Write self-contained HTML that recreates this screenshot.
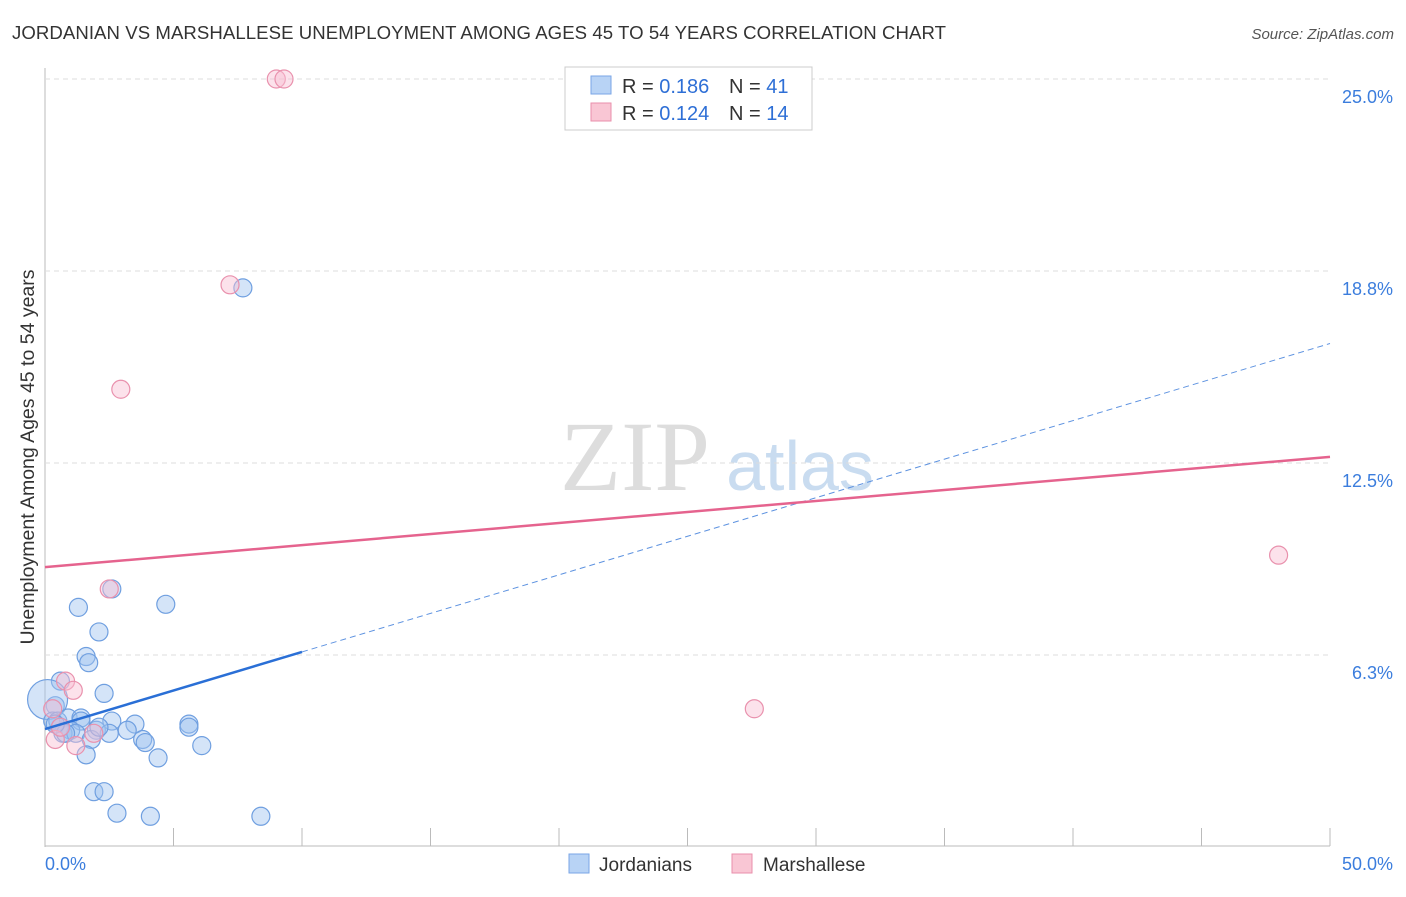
<!DOCTYPE html>
<html><head><meta charset="utf-8"><style>
body{margin:0;background:#fff;font-family:"Liberation Sans",sans-serif;}
</style></head><body>
<svg width="1406" height="892" xmlns="http://www.w3.org/2000/svg" id="svg">
<text x="12" y="39" font-size="18.6" fill="#333" textLength="934">JORDANIAN VS MARSHALLESE UNEMPLOYMENT AMONG AGES 45 TO 54 YEARS CORRELATION CHART</text>
<text x="1394" y="39" font-size="15" fill="#555" font-style="italic" text-anchor="end">Source: ZipAtlas.com</text>
<text x="635" y="490" font-size="100" fill="#ddd" font-family="Liberation Serif,serif" text-anchor="middle">ZIP</text>
<text x="800" y="490" font-size="70" fill="#c9dcf0" text-anchor="middle">atlas</text>
<text transform="translate(34,457) rotate(-90)" font-size="19.5" fill="#333" text-anchor="middle">Unemployment Among Ages 45 to 54 years</text>
<g id="grid"></g><g id="marks"></g>
<rect x="565" y="67" width="247" height="63" fill="#fff" stroke="#ccc"/>
<rect x="591" y="76" width="20" height="18" fill="#b8d3f5" stroke="#7aa6e6"/>
<text x="622" y="93" font-size="20" fill="#333">R = <tspan fill="#2e6fd6">0.186</tspan></text>
<text x="729" y="93" font-size="20" fill="#333">N = <tspan fill="#2e6fd6">41</tspan></text>
<rect x="591" y="103" width="20" height="18" fill="#f9c6d4" stroke="#e98fab"/>
<text x="622" y="120" font-size="20" fill="#333">R = <tspan fill="#2e6fd6">0.124</tspan></text>
<text x="729" y="120" font-size="20" fill="#333">N = <tspan fill="#2e6fd6">14</tspan></text>
<rect x="569" y="854" width="20" height="19" fill="#b8d3f5" stroke="#7aa6e6"/>
<text x="599" y="871" font-size="19" fill="#333">Jordanians</text>
<rect x="732" y="854" width="20" height="19" fill="#f9c6d4" stroke="#e98fab"/>
<text x="763" y="871" font-size="19" fill="#333">Marshallese</text>
</svg>
<script>
const yTicks=[6.25,12.5,18.75,25];
const yTickLabels=["6.3%","12.5%","18.8%","25.0%"];
const xTickLabels=["0.0%","50.0%"];
const jorX=[7.7,1.3,4.7,2.6,2.1,1.6,1.7,0.6,2.3,0.4,0.1,0.3,0.5,0.9,1.4,1.4,2.6,3.5,5.6,5.6,1.0,0.7,2.0,1.2,2.5,3.2,3.8,3.9,1.8,6.1,1.6,4.4,1.9,2.3,2.8,4.1,8.4,0.6,0.8,2.1,0.4];
const jorY=[18.2,7.8,7.9,8.4,7.0,6.2,6.0,5.4,5.0,4.6,4.8,4.1,4.1,4.2,4.2,4.1,4.1,4.0,4.0,3.9,3.8,3.7,3.8,3.7,3.7,3.8,3.5,3.4,3.5,3.3,3.0,2.9,1.8,1.8,1.1,1.0,1.0,3.9,3.7,3.9,4.0];
const marX=[9.0,9.3,7.2,2.95,2.5,48.0,27.6,0.8,1.1,0.3,0.4,1.2,1.9,0.6];
const marY=[25.0,25.0,18.3,14.9,8.4,9.5,4.5,5.4,5.1,4.5,3.5,3.3,3.7,3.9];
const jorTrend=[3.84,0.251]; // intercept, slope
const marTrend=[9.11,0.0718];
const NS="http://www.w3.org/2000/svg";
const X=v=>45+v*25.7, Y=v=>847-v*30.72;
function el(t,a,p){const e=document.createElementNS(NS,t);for(const k in a)e.setAttribute(k,a[k]);(p||document.getElementById('marks')).appendChild(e);return e;}
const g=document.getElementById('grid');
let ax=el('line',{x1:45,y1:68,x2:45,y2:847,stroke:'#bbb'},g);


let bx=el('line',{x1:45,y1:846,x2:1330,y2:846,stroke:'#bbb'},g);


for(let i=1;i<=10;i++){let t=el('line',{x1:45+i*128.5,y1:828,x2:45+i*128.5,y2:846,stroke:'#bbb'},g);

}
yTicks.forEach((v,i)=>{let l=el('line',{x1:45,y1:Y(v),x2:1330,y2:Y(v),stroke:'#ddd','stroke-dasharray':'5,4'},g);


let t=el('text',{x:1393,y:Y(v)+24,'font-size':18,fill:'#3b7ddd','text-anchor':'end'},g);t.textContent=yTickLabels[i];

});
[[45,'start'],[1393,'end']].forEach((p,i)=>{let t=el('text',{x:p[0],y:870,'font-size':18,fill:'#3b7ddd','text-anchor':p[1]},g);t.textContent=xTickLabels[i];

});
jorX.forEach((x,i)=>{let c=el('circle',{cx:X(x),cy:Y(jorY[i]),r:i==10?20:9,fill:'rgba(160,195,240,0.45)',stroke:'#6f9fe0','stroke-width':1.2});

});
marX.forEach((x,i)=>{let c=el('circle',{cx:X(x),cy:Y(marY[i]),r:9,fill:'rgba(248,190,210,0.45)',stroke:'#e991ad','stroke-width':1.2});

});
let l1=el('line',{x1:X(0),y1:Y(jorTrend[0]),x2:X(10),y2:Y(jorTrend[0]+10*jorTrend[1]),stroke:'#2a6fd6','stroke-width':2.5});


let l2=el('line',{x1:X(10),y1:Y(jorTrend[0]+10*jorTrend[1]),x2:X(50),y2:Y(jorTrend[0]+50*jorTrend[1]),stroke:'#5d92e0','stroke-width':1,'stroke-dasharray':'6,4'});


let l3=el('line',{x1:X(0),y1:Y(marTrend[0]),x2:X(50),y2:Y(marTrend[0]+50*marTrend[1]),stroke:'#e5638e','stroke-width':2.5});


</script>
</body></html>
